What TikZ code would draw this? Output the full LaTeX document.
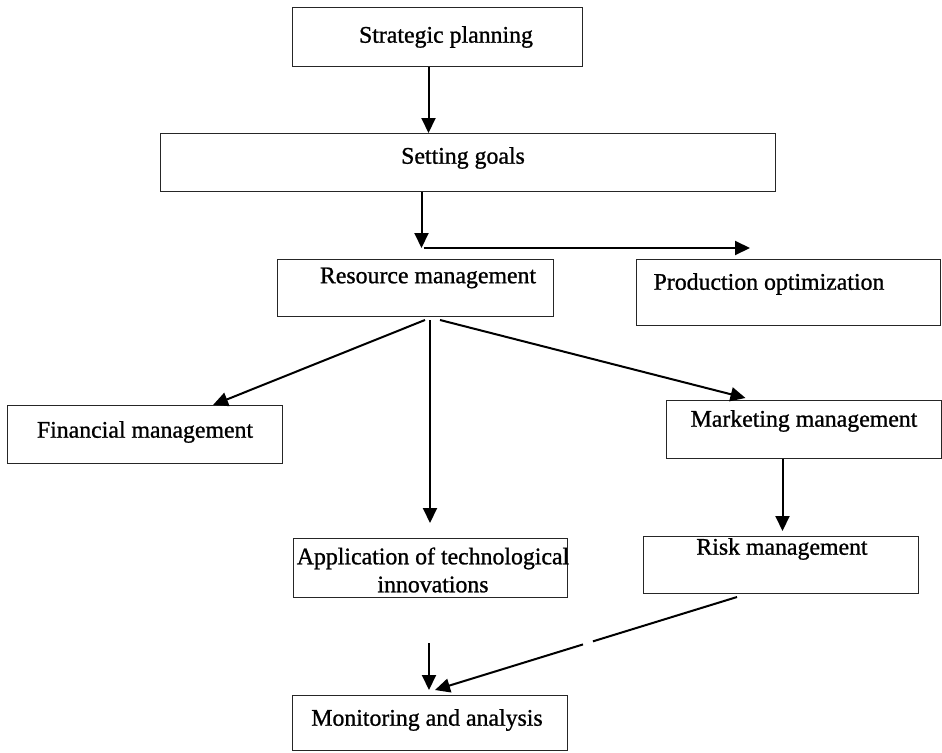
\documentclass[tikz,border=0pt]{standalone}
\usepackage{fontspec}
\setmainfont{Liberation Serif}[BoldFont=Liberation Serif,BoldFeatures={FakeBold=1.0}]
\usetikzlibrary{arrows.meta,calc}
\begin{document}
\begin{tikzpicture}[x=1pt,y=-1pt,
  box/.style={draw=black!85,line width=1pt,inner sep=0pt,anchor=north west},
  lbl/.style={inner sep=0pt,font=\fontsize{23.8}{28}\selectfont\bfseries,align=center},
  arr/.style={line width=2pt,-{Triangle[length=15pt,width=14pt]}},
  ln/.style={line width=2pt}]
\useasboundingbox (0,0) rectangle (942,752);
% boxes
\node[box,minimum width=290pt,minimum height=59pt] (sp) at (292,7) {};
\node[box,minimum width=615pt,minimum height=58pt] (sg) at (160,133) {};
\node[box,minimum width=276pt,minimum height=57pt] (rm) at (277,259) {};
\node[box,minimum width=304pt,minimum height=66pt] (po) at (636,259) {};
\node[box,minimum width=275pt,minimum height=58pt] (fm) at (7,405) {};
\node[box,minimum width=275pt,minimum height=58pt] (mm) at (666,400) {};
\node[box,minimum width=274pt,minimum height=59pt] (at) at (293,538) {};
\node[box,minimum width=275pt,minimum height=57pt] (rk) at (643,536) {};
\node[box,minimum width=275pt,minimum height=55pt] (ma) at (292,695) {};
% labels
\node[lbl] (tsp) at (446,37) {Strategic planning};
\node[lbl] (tsg) at (463,158) {Setting goals};
\node[lbl] (trm) at (428,278) {Resource management};
\node[lbl] (tpo) at (769,284) {Production optimization};
\node[lbl] (tfm) at (145,432) {Financial management};
\node[lbl] (tmm) at (804,421) {Marketing management};
\node[lbl] (tat) at (433,570) {Application of technological\\innovations};
\node[lbl] (trk) at (782,549) {Risk management};
\node[lbl] (tma) at (427,720) {Monitoring and analysis};
% connectors
\draw[arr] ([xshift=-9pt]sp.south) -- ([xshift=-9pt]sp.south |- sg.north);
\coordinate (j) at ([xshift=-46.5pt]sg.south |- 0,248);
\draw[arr] ([xshift=-46.5pt]sg.south) -- (j);
\coordinate (pe) at (750,248);
\draw[arr] ([xshift=2pt]j) -- (pe);
\coordinate (r1) at (425,320);
\coordinate (r2) at (430,320);
\coordinate (r3) at (440,320);
\draw[arr] (r1) -- ([xshift=68pt]fm.north);
\draw[arr] (r2) -- ([yshift=15pt]r2 |- at.north);
\draw[arr] (r3) -- ([xshift=-58.5pt,yshift=2pt]mm.north);
\draw[arr] ([xshift=-21.5pt]mm.south) -- ([xshift=-21.5pt,yshift=5pt]mm.south |- rk.north);
\coordinate (ks) at (737,597);
\coordinate (ke) at (435,690);
\draw[ln] (ks) -- ($(ks)!0.477!(ke)$);
\draw[arr] ($(ks)!0.51!(ke)$) -- (ke);
\coordinate (vs) at (429,643);
\draw[arr] (vs) -- ([yshift=5pt]vs |- ma.north);
\end{tikzpicture}
\end{document}
